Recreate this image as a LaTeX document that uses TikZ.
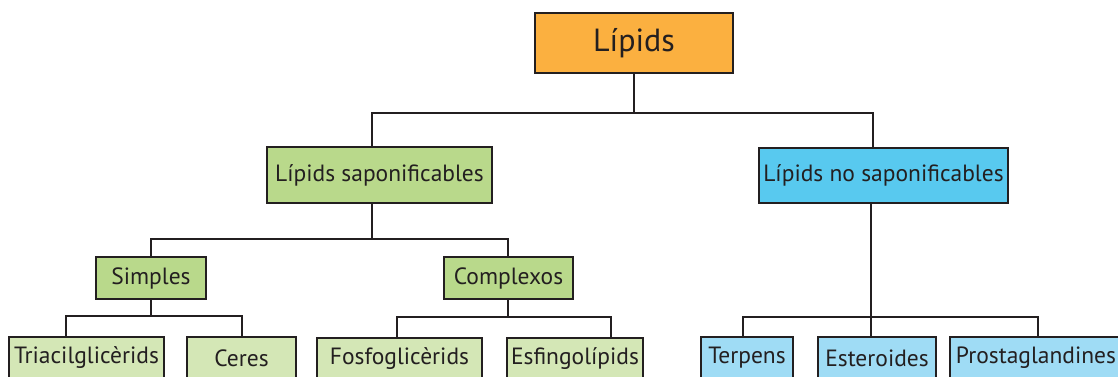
\documentclass[tikz,border=0pt]{standalone}
\usepackage{fontspec}
\setmainfont{PT Sans}
\definecolor{lipidorange}{HTML}{FBB040}
\definecolor{sapgreen}{HTML}{B9D98B}
\definecolor{sapleaf}{HTML}{D4E7B6}
\definecolor{nosapblue}{HTML}{58C9EF}
\definecolor{nosapleaf}{HTML}{9FDCF5}
\definecolor{ink}{HTML}{231F20}

\begin{document}
\begin{tikzpicture}[x=1pt, y=-1pt]
    \tikzset{box/.style={draw=ink, line width=1.6pt, text=ink, inner sep=0pt,
      font=\fontsize{23.5}{28}\selectfont}}
    \tikzset{wire/.style={draw=ink, line width=1.5pt}}
    \tikzset{sap/.style={box, fill=sapgreen}}
    \tikzset{sap leaf/.style={box, fill=sapleaf, minimum height=42pt}}
    \tikzset{nosap/.style={box, fill=nosapblue}}
    \tikzset{nosap leaf/.style={box, fill=nosapleaf, minimum height=42pt}}

    % page
    \useasboundingbox (0,0) rectangle (1118,376);

    % root
    \node (lipids) at (634,43) [box, fill=lipidorange, line width=2.2pt,
      minimum width=198pt, minimum height=60pt,
      font=\fontsize{32}{38}\selectfont] {Lípids};

    % second level
    \node (saponif)   at (379.5,175) [sap, minimum width=225pt, minimum height=56pt] {Lípids saponificables};
    \node (nosaponif) at (883.5,175.5) [nosap, minimum width=249pt, minimum height=55pt] {Lípids no saponificables};

    % third level
    \node (simples)   at (151,278)   [sap, minimum width=110pt, minimum height=42pt] {Simples};
    \node (complexos) at (508.5,278) [sap, minimum width=129pt, minimum height=42pt] {Complexos};

    % leaves
    \node (triacil)  at (86.5,358)  [sap leaf, minimum width=155pt] {Triacilglicèrids};
    \node (ceres)    at (241.5,358) [sap leaf, minimum width=109pt] {Ceres};
    \node (fosfo)    at (399.5,359) [sap leaf, minimum width=165pt] {Fosfoglicèrids};
    \node (esfingo)  at (575,359)   [sap leaf, minimum width=136pt] {Esfingolípids};
    \node (terpens)  at (747,358)   [nosap leaf, minimum width=92pt] {Terpens};
    \node (esteroid) at (877,358)   [nosap leaf, minimum width=118pt] {Esteroides};
    \node (prosta)   at (1036,358)  [nosap leaf, minimum width=172pt] {Prostaglandines};

    % bars
    \coordinate (bar1 left)  at (372,113);
    \coordinate (bar1 right) at (873,113);
    \coordinate (bar2 left)  at (151,239);
    \coordinate (bar2 right) at (508,239);
    \coordinate (bar3 left)  at (66,316);
    \coordinate (bar3 right) at (242,316);
    \coordinate (bar4 left)  at (397,317);
    \coordinate (bar4 right) at (611,317);
    \coordinate (bar5 left)  at (743,317);
    \coordinate (bar5 right) at (1038,317);

    % lines
    \draw[wire] (lipids.south) -- (lipids.south |- bar1 left);
    \draw[wire] (bar1 left |- saponif.north) |- (bar1 right) -- (bar1 right |- nosaponif.north);

    \draw[wire] (bar1 left |- saponif.south) -- (bar1 left |- bar2 left);
    \draw[wire] (bar2 left |- simples.north) |- (bar2 right) -- (bar2 right |- complexos.north);

    \draw[wire] (bar2 left |- simples.south) -- (bar2 left |- bar3 left);
    \draw[wire] (bar3 left |- triacil.north) |- (bar3 right) -- (bar3 right |- ceres.north);

    \draw[wire] (bar2 right |- complexos.south) -- (bar2 right |- bar4 left);
    \draw[wire] (bar4 left |- fosfo.north) |- (bar4 right) -- (bar4 right |- esfingo.north);

    \draw[wire] (871,0 |- nosaponif.south) -- (871,0 |- esteroid.north);
    \draw[wire] (bar5 left |- terpens.north) |- (bar5 right) -- (bar5 right |- prosta.north);

\end{tikzpicture}
\end{document}
